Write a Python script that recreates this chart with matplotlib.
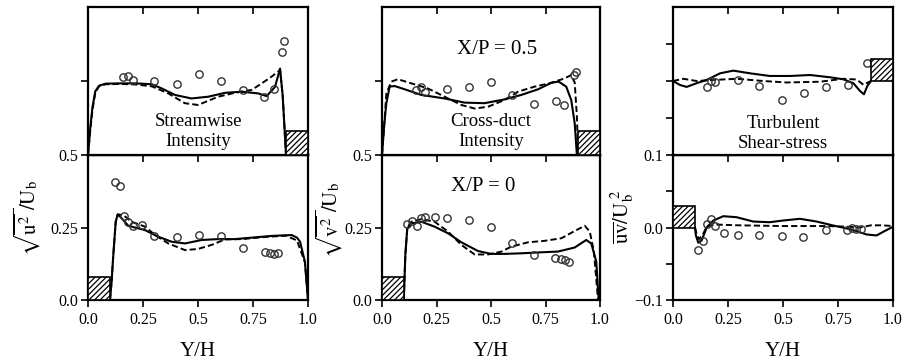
import numpy as np
import matplotlib
matplotlib.use('Agg')
import matplotlib.pyplot as plt
from matplotlib.patches import Rectangle

plt.rcParams['font.family'] = 'Liberation Serif'
plt.rcParams['mathtext.fontset'] = 'stix'
plt.rcParams['hatch.linewidth'] = 0.9

#### Data (top panels stored as true values, drawn with an offset)

# --- Streamwise intensity, X/P = 0.5 (top) ---
su_top_sol_x = [0.0, 0.01, 0.02, 0.033, 0.05, 0.08, 0.15, 0.22, 0.29, 0.335, 0.395, 0.47, 0.547, 0.623, 0.698, 0.774, 0.812, 0.85, 0.873, 0.885, 0.9]
su_top_sol_y = [0.0, 0.09, 0.16, 0.215, 0.234, 0.241, 0.242, 0.242, 0.239, 0.225, 0.203, 0.191, 0.197, 0.21, 0.214, 0.208, 0.199, 0.23, 0.292, 0.2, 0.0]
su_top_das_x = [0.0, 0.01, 0.02, 0.033, 0.05, 0.08, 0.15, 0.22, 0.29, 0.365, 0.44, 0.5, 0.592, 0.668, 0.744, 0.79, 0.835, 0.873, 0.885, 0.9]
su_top_das_y = [0.0, 0.08, 0.15, 0.21, 0.232, 0.239, 0.24, 0.238, 0.232, 0.208, 0.175, 0.169, 0.197, 0.21, 0.22, 0.242, 0.265, 0.287, 0.2, 0.0]
su_top_exp_x = [0.16, 0.183, 0.203, 0.301, 0.405, 0.503, 0.603, 0.706, 0.801, 0.845, 0.882, 0.892]
su_top_exp_y = [0.262, 0.266, 0.253, 0.25, 0.241, 0.275, 0.25, 0.22, 0.195, 0.223, 0.348, 0.386]

# --- Streamwise intensity, X/P = 0 (bottom) ---
su_bot_sol_x = [0.1, 0.107, 0.115, 0.126, 0.135, 0.153, 0.183, 0.259, 0.32, 0.38, 0.441, 0.517, 0.593, 0.668, 0.744, 0.835, 0.926, 0.95, 0.964, 0.986, 1.0]
su_bot_sol_y = [0.0, 0.06, 0.155, 0.27, 0.295, 0.282, 0.256, 0.241, 0.218, 0.201, 0.195, 0.207, 0.21, 0.21, 0.215, 0.221, 0.224, 0.215, 0.201, 0.132, 0.0]
su_bot_das_x = [0.1, 0.107, 0.115, 0.126, 0.135, 0.16, 0.198, 0.259, 0.305, 0.365, 0.441, 0.5, 0.562, 0.623, 0.7, 0.8, 0.9, 0.95, 0.986, 1.0]
su_bot_das_y = [0.0, 0.06, 0.155, 0.27, 0.295, 0.293, 0.27, 0.253, 0.224, 0.195, 0.172, 0.176, 0.19, 0.209, 0.21, 0.217, 0.222, 0.205, 0.13, 0.0]
su_bot_exp_x = [0.123, 0.145, 0.165, 0.183, 0.206, 0.247, 0.301, 0.405, 0.505, 0.603, 0.706, 0.805, 0.827, 0.845, 0.862]
su_bot_exp_y = [0.406, 0.393, 0.288, 0.27, 0.256, 0.258, 0.222, 0.218, 0.224, 0.221, 0.178, 0.167, 0.163, 0.159, 0.162]

# --- Cross-duct intensity, X/P = 0.5 (top) ---
cv_top_sol_x = [0.0, 0.01, 0.02, 0.035, 0.058, 0.104, 0.18, 0.287, 0.379, 0.47, 0.563, 0.639, 0.716, 0.777, 0.81, 0.845, 0.868, 0.884, 0.894]
cv_top_sol_y = [0.0, 0.1, 0.175, 0.231, 0.233, 0.222, 0.203, 0.191, 0.177, 0.175, 0.188, 0.203, 0.222, 0.244, 0.248, 0.231, 0.186, 0.107, 0.0]
cv_top_das_x = [0.0, 0.01, 0.02, 0.043, 0.073, 0.135, 0.21, 0.287, 0.364, 0.425, 0.486, 0.563, 0.624, 0.7, 0.777, 0.838, 0.868, 0.884, 0.894, 0.9]
cv_top_das_y = [0.0, 0.1, 0.208, 0.248, 0.256, 0.242, 0.225, 0.197, 0.169, 0.157, 0.163, 0.186, 0.214, 0.231, 0.244, 0.259, 0.27, 0.245, 0.13, 0.0]
cv_top_exp_x = [0.155, 0.178, 0.198, 0.297, 0.398, 0.498, 0.598, 0.699, 0.798, 0.836, 0.88, 0.889]
cv_top_exp_y = [0.22, 0.229, 0.214, 0.222, 0.229, 0.245, 0.202, 0.172, 0.182, 0.169, 0.27, 0.28]

# --- Cross-duct intensity, X/P = 0 (bottom) ---
cv_bot_sol_x = [0.1, 0.107, 0.116, 0.135, 0.18, 0.241, 0.303, 0.364, 0.44, 0.5, 0.563, 0.639, 0.716, 0.807, 0.884, 0.937, 0.96, 0.983, 0.994]
cv_bot_sol_y = [0.0, 0.155, 0.247, 0.264, 0.27, 0.253, 0.23, 0.199, 0.169, 0.159, 0.159, 0.161, 0.164, 0.167, 0.181, 0.207, 0.195, 0.132, 0.0]
cv_bot_das_x = [0.1, 0.107, 0.116, 0.135, 0.18, 0.241, 0.303, 0.364, 0.425, 0.486, 0.548, 0.593, 0.67, 0.746, 0.823, 0.884, 0.93, 0.953, 0.972, 0.991]
cv_bot_das_y = [0.0, 0.155, 0.25, 0.27, 0.279, 0.27, 0.236, 0.19, 0.157, 0.157, 0.167, 0.184, 0.199, 0.204, 0.213, 0.238, 0.256, 0.236, 0.167, 0.0]
cv_bot_exp_x = [0.116, 0.139, 0.162, 0.177, 0.199, 0.243, 0.297, 0.397, 0.498, 0.596, 0.696, 0.792, 0.82, 0.838, 0.856]
cv_bot_exp_y = [0.262, 0.272, 0.256, 0.282, 0.285, 0.287, 0.283, 0.275, 0.253, 0.198, 0.155, 0.144, 0.141, 0.138, 0.132]

# --- Turbulent shear stress, X/P = 0.5 (top) ---
uv_top_sol_x = [0.0, 0.032, 0.062, 0.107, 0.153, 0.214, 0.274, 0.35, 0.44, 0.532, 0.623, 0.714, 0.774, 0.82, 0.85, 0.868, 0.883, 0.9]
uv_top_sol_y = [0.0, -0.0054, -0.008, -0.003, 0.0014, 0.0104, 0.014, 0.0104, 0.0068, 0.0068, 0.0081, 0.005, 0.0023, -0.003, -0.0135, -0.018, -0.0068, 0.0]
uv_top_das_x = [0.0, 0.047, 0.107, 0.183, 0.29, 0.41, 0.516, 0.668, 0.774, 0.835, 0.865, 0.9]
uv_top_das_y = [0.0, 0.003, 0.0, 0.0014, 0.003, 0.0, -0.002, -0.001, 0.003, 0.002, -0.005, 0.0]
uv_top_exp_x = [0.156, 0.171, 0.191, 0.294, 0.392, 0.497, 0.595, 0.694, 0.797, 0.88]
uv_top_exp_y = [-0.0077, 0.0004, -0.001, 0.0014, -0.0068, -0.0257, -0.0167, -0.0077, -0.0054, 0.024]

# --- Turbulent shear stress, X/P = 0 (bottom) ---
uv_bot_sol_x = [0.1, 0.104, 0.115, 0.13, 0.153, 0.183, 0.229, 0.289, 0.365, 0.44, 0.5, 0.577, 0.653, 0.729, 0.805, 0.88, 0.925, 0.964, 1.0]
uv_bot_sol_y = [0.0, -0.011, -0.021, -0.018, 0.0, 0.0096, 0.0156, 0.0142, 0.0082, 0.0073, 0.0096, 0.012, 0.0082, 0.0027, -0.0023, -0.0096, -0.011, -0.0046, 0.001]
uv_bot_das_x = [0.1, 0.108, 0.118, 0.135, 0.155, 0.2, 0.3, 0.5, 0.7, 0.8, 0.85, 0.9, 0.95, 1.0]
uv_bot_das_y = [0.0, -0.01, -0.016, -0.01, 0.002, 0.004, 0.003, 0.002, 0.002, 0.001, 0.0, 0.003, 0.003, 0.002]
uv_bot_exp_x = [0.115, 0.135, 0.153, 0.171, 0.191, 0.233, 0.294, 0.392, 0.494, 0.592, 0.694, 0.792, 0.812, 0.832, 0.853]
uv_bot_exp_y = [-0.0306, -0.0188, 0.0055, 0.0119, 0.0027, -0.0078, -0.011, -0.011, -0.0114, -0.0132, -0.0032, -0.0041, -0.0005, -0.0018, -0.0018]

x_ticks = [0.0, 0.25, 0.5, 0.75, 1.0]
x_ticklabels = ['0.0', '0.25', '0.5', '0.75', '1.0']

panels = [
    dict(top=(su_top_sol_x, su_top_sol_y, su_top_das_x, su_top_das_y, su_top_exp_x, su_top_exp_y),
         bot=(su_bot_sol_x, su_bot_sol_y, su_bot_das_x, su_bot_das_y, su_bot_exp_x, su_bot_exp_y),
         offset=0.5, ylim_bot=(0.0, 0.5), ylim_top=(0.5, 1.0),
         yt_bot=[0.0, 0.25], ytl_bot=['0.0', '0.25'],
         yt_top=[0.5, 0.75], ytl_top=['0.5', ''],
         block_h=0.08, name='Streamwise\nIntensity', name_y=0.58,
         ylabel=r'$\sqrt{\overline{\mathrm{u}^2}\,}/\mathrm{U}_\mathrm{b}$', ylab_xy=(-0.205, 0.566)),
    dict(top=(cv_top_sol_x, cv_top_sol_y, cv_top_das_x, cv_top_das_y, cv_top_exp_x, cv_top_exp_y),
         bot=(cv_bot_sol_x, cv_bot_sol_y, cv_bot_das_x, cv_bot_das_y, cv_bot_exp_x, cv_bot_exp_y),
         offset=0.5, ylim_bot=(0.0, 0.5), ylim_top=(0.5, 1.0),
         yt_bot=[0.0, 0.25], ytl_bot=['0.0', '0.25'],
         yt_top=[0.5, 0.75], ytl_top=['0.5', ''],
         block_h=0.08, name='Cross-duct\nIntensity', name_y=0.58,
         ylabel=r'$\sqrt{\overline{\mathrm{v}^2}\,}/\mathrm{U}_\mathrm{b}$', ylab_xy=(-0.17, 0.55)),
    dict(top=(uv_top_sol_x, uv_top_sol_y, uv_top_das_x, uv_top_das_y, uv_top_exp_x, uv_top_exp_y),
         bot=(uv_bot_sol_x, uv_bot_sol_y, uv_bot_das_x, uv_bot_das_y, uv_bot_exp_x, uv_bot_exp_y),
         offset=0.2, ylim_bot=(-0.1, 0.1), ylim_top=(0.1, 0.3),
         yt_bot=[-0.1, -0.05, 0.0, 0.05], ytl_bot=['\u22120.1', '', '0.0', ''],
         yt_top=[0.1, 0.15, 0.2, 0.25], ytl_top=['0.1', '', '', ''],
         block_h=0.03, name='Turbulent\nShear-stress', name_y=0.129,
         ylabel=r'$\overline{\mathrm{uv}}/\mathrm{U}_\mathrm{b}^{\ 2}$', ylab_xy=(-0.164, 0.572)),
]

# axes geometry in pixels of the 905 x 361 figure
W, H = 905.0, 361.0
lefts = [88, 382, 673]
widths = [220, 218, 220]
y_top, y_mid, y_bot = 7, 155, 300

fig = plt.figure(figsize=(9.05, 3.61), dpi=100)
lw_spine = 1.6
dash = (0, (3.2, 1.6))
tick_fs = 11.5

for i, p in enumerate(panels):
    ax_b = fig.add_axes([lefts[i] / W, (H - y_bot) / H, widths[i] / W, (y_bot - y_mid) / H])
    ax_t = fig.add_axes([lefts[i] / W, (H - y_mid) / H, widths[i] / W, (y_mid - y_top) / H])

    # bottom panel: X/P = 0
    sx, sy, dx, dy, ex, ey = p['bot']
    ax_b.plot(sx, sy, color='black', lw=1.5)
    ax_b.plot(dx, dy, color='black', lw=1.4, linestyle=dash)
    ax_b.plot(ex, ey, 'o', ms=5.3, mfc='none', mec='#333333', mew=1.0)
    ax_b.add_patch(Rectangle((0.0, 0.0), 0.1, p['block_h'], facecolor='white',
                             edgecolor='black', hatch='//////', lw=1.2, zorder=3))

    # top panel: X/P = 0.5 (shifted up by offset)
    off = p['offset']
    sx, sy, dx, dy, ex, ey = p['top']
    ax_t.plot(sx, np.array(sy) + off, color='black', lw=1.5)
    ax_t.plot(dx, np.array(dy) + off, color='black', lw=1.4, linestyle=dash)
    ax_t.plot(ex, np.array(ey) + off, 'o', ms=5.3, mfc='none', mec='#333333', mew=1.0)
    ax_t.add_patch(Rectangle((0.9, off if i == 2 else p['ylim_top'][0]), 0.1, p['block_h'],
                             facecolor='white', edgecolor='black', hatch='//////', lw=1.2, zorder=3))

    for ax, yl, yt, ytl in [(ax_b, p['ylim_bot'], p['yt_bot'], p['ytl_bot']),
                            (ax_t, p['ylim_top'], p['yt_top'], p['ytl_top'])]:
        ax.set_xlim(0, 1)
        ax.set_ylim(*yl)
        ax.set_yticks(yt)
        ax.set_yticklabels(ytl, fontsize=tick_fs)
        ax.tick_params(axis='y', direction='out', length=5, width=1.2, right=False, pad=2)
        for s in ax.spines.values():
            s.set_linewidth(lw_spine)

    ax_b.set_xticks(x_ticks)
    ax_b.set_xticklabels(x_ticklabels, fontsize=tick_fs)
    ax_b.tick_params(axis='x', direction='out', length=5, width=1.2, top=False, pad=4)
    sec = ax_b.secondary_xaxis('top')
    sec.set_xticks([0.25, 0.5, 0.75])
    sec.tick_params(direction='in', length=5, width=1.2, labeltop=False)
    sec.spines['top'].set_linewidth(lw_spine)

    ax_t.set_xticks([0.25, 0.5, 0.75])
    ax_t.tick_params(axis='x', direction='in', length=5, width=1.2, top=True, bottom=False,
                     labelbottom=False)

    ax_b.set_xlabel('Y/H', fontsize=15, labelpad=10)
    ax_b.set_ylabel(p['ylabel'], fontsize=15)
    ax_b.yaxis.set_label_coords(*p['ylab_xy'])

    # panel captions
    ax_t.text(0.5, p['name_y'], p['name'], ha='center', va='center', fontsize=13.5,
              linespacing=1.2)

    if i == 1:
        ax_t.text(0.53, 0.858, 'X/P = 0.5', ha='center', va='center', fontsize=15)
        ax_b.text(0.465, 0.39, 'X/P = 0', ha='center', va='center', fontsize=15)

fig.savefig('out.png', dpi=100)
